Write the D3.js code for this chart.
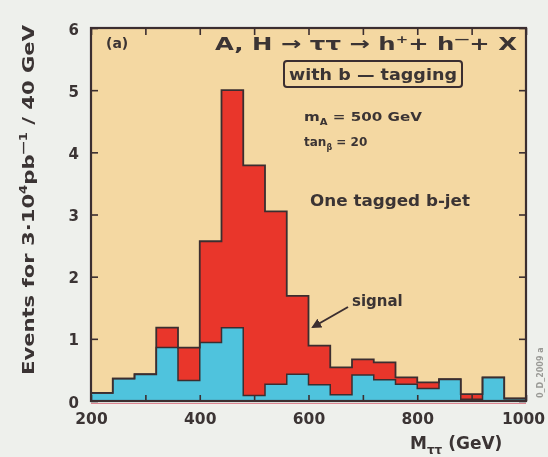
<!DOCTYPE html>
<html>
<head>
<meta charset="utf-8">
<script src="https://cdn.jsdelivr.net/npm/d3@7"></script>
<style>
  html, body { margin: 0; padding: 0; background: #eef0ec; }
  svg { display: block; filter: blur(0.45px); }
  text { font-family: "DejaVu Sans", "Liberation Sans", sans-serif; font-weight: bold; fill: #3b3434; }
</style>
</head>
<body>
<svg id="chart" width="548" height="457"></svg>
<script>
// --- data: 40 GeV bins from 200 to 1000 GeV ---
var binStart = [200, 240, 280, 320, 360, 400, 440, 480, 520, 560,
                600, 640, 680, 720, 760, 800, 840, 880, 920, 960];
// background (cyan) events per bin
var background = [0.13, 0.36, 0.43, 0.86, 0.33, 0.94, 1.18, 0.09, 0.27, 0.43,
                  0.26, 0.10, 0.42, 0.34, 0.27, 0.20, 0.35, 0.03, 0.38, 0.04];
// signal (red) stacked on top of background
var signal = [0.00, 0.00, 0.00, 0.32, 0.53, 1.63, 3.82, 3.70, 2.78, 1.26,
              0.63, 0.44, 0.25, 0.28, 0.11, 0.10, 0.00, 0.08, 0.00, 0.00];
var binWidth = 40;
var yTicks = [0, 1, 2, 3, 4, 5, 6];
var xTicks = [200, 300, 400, 500, 600, 700, 800, 900, 1000];
var xLabels = [200, 400, 600, 800, 1000];

// --- colours ---
var colPanel = "#f4d8a2";
var colSignal = "#e9362b";
var colBkg = "#4fc3dd";
var colLine = "#3b2e30";

var svg = d3.select("#chart");
var x = d3.scaleLinear().domain([200, 1000]).range([91, 526]);
var y = d3.scaleLinear().domain([0, 6]).range([401, 28]);

// panel
svg.append("rect")
    .attr("x", x(200)).attr("y", y(6))
    .attr("width", x(1000) - x(200)).attr("height", y(0) - y(6))
    .attr("fill", colPanel);

// build stacked rows
var rows = binStart.map(function(b, i) {
    return { x: b, bkg: background[i], sig: signal[i] };
});
var stack = d3.stack().keys(["bkg", "sig"]);
var series = stack(rows);
// add closing point at the upper edge of the last bin
function withEnd(s) {
    var pts = s.map(function(d, i) { return { x: rows[i].x, y0: d[0], y1: d[1] }; });
    var last = pts[pts.length - 1];
    pts.push({ x: last.x + binWidth, y0: last.y0, y1: last.y1 });
    return pts;
}
var bkgPts = withEnd(series[0]);
var totPts = withEnd(series[1]);

var area = d3.area().curve(d3.curveStepAfter)
    .x(function(d) { return x(d.x); })
    .y0(function() { return y(0); })
    .y1(function(d) { return y(d.y1); });
var line = d3.line().curve(d3.curveStepAfter)
    .x(function(d) { return x(d.x); })
    .y(function(d) { return y(d.y1); });

svg.append("path").attr("d", area(totPts)).attr("fill", colSignal);
svg.append("path").attr("d", area(bkgPts)).attr("fill", colBkg);
svg.append("path").attr("d", line(totPts)).attr("fill", "none")
    .attr("stroke", colLine).attr("stroke-width", 1.8);
svg.append("path").attr("d", line(bkgPts)).attr("fill", "none")
    .attr("stroke", colLine).attr("stroke-width", 1.5);

// axes (ticks point inward)
var fmtX = function(d) { return xLabels.indexOf(d) >= 0 ? d : ""; };
var gy = svg.append("g").attr("transform", "translate(" + x(200) + ",0)")
    .call(d3.axisLeft(y).tickValues(yTicks).tickSize(-7).tickPadding(12).tickFormat(d3.format("d")));
svg.append("g").attr("transform", "translate(" + x(1000) + ",0)")
    .call(d3.axisRight(y).tickValues(yTicks).tickSize(-7).tickFormat(""));
var gx = svg.append("g").attr("transform", "translate(0," + y(0) + ")")
    .call(d3.axisBottom(x).tickValues(xTicks).tickSize(-6).tickPadding(12).tickFormat(fmtX));
svg.append("g").attr("transform", "translate(0," + y(6) + ")")
    .call(d3.axisTop(x).tickValues(xTicks).tickSize(-7).tickFormat(""));
svg.selectAll(".domain").remove();
svg.selectAll(".tick line").attr("stroke", colLine).attr("stroke-width", 1.6);
svg.selectAll(".tick text").attr("fill", "#3b3434");
gy.selectAll(".tick text").style("font-size", "15px").attr("dy", "0.4em");
gx.selectAll(".tick text").style("font-size", "15.5px")
    .attr("dx", function(d) { return d === 1000 ? -3 : 0; });

// frame
svg.append("rect")
    .attr("x", x(200)).attr("y", y(6))
    .attr("width", x(1000) - x(200)).attr("height", y(0) - y(6))
    .attr("fill", "none").attr("stroke", colLine).attr("stroke-width", 2.2);
svg.append("line")
    .attr("x1", x(200)).attr("x2", x(1000)).attr("y1", y(0) + 2.5).attr("y2", y(0) + 2.5)
    .attr("stroke", "#d86a7a").attr("stroke-width", 0.8);

// annotations
svg.append("text").attr("x", 106).attr("y", 48).style("font-size", "14px").text("(a)");
svg.append("text").attr("x", 215).attr("y", 50).style("font-size", "18px")
    .attr("textLength", 302).attr("lengthAdjust", "spacingAndGlyphs")
    .html('A, H → ττ → h<tspan dy="-7" font-size="11">+</tspan><tspan dy="7">+ h</tspan><tspan dy="-7" font-size="11">—</tspan><tspan dy="7">+ X</tspan>');

svg.append("rect").attr("x", 284).attr("y", 61).attr("width", 178).attr("height", 26)
    .attr("rx", 3).attr("fill", "none").attr("stroke", colLine).attr("stroke-width", 2);
svg.append("text").attr("x", 289).attr("y", 80).style("font-size", "16px")
    .attr("textLength", 168).attr("lengthAdjust", "spacingAndGlyphs").text("with b — tagging");

svg.append("text").attr("x", 304).attr("y", 121).style("font-size", "12px")
    .attr("textLength", 118).attr("lengthAdjust", "spacingAndGlyphs")
    .html('m<tspan dy="4" font-size="8">A</tspan><tspan dy="-4"> = 500 GeV</tspan>');
svg.append("text").attr("x", 304).attr("y", 146).style("font-size", "12px")
    .html('tan<tspan dy="4" font-size="8">β</tspan><tspan dy="-4"> = 20</tspan>');
svg.append("text").attr("x", 310).attr("y", 206).style("font-size", "16px")
    .attr("textLength", 160).attr("lengthAdjust", "spacingAndGlyphs").text("One tagged b-jet");

svg.append("text").attr("x", 352).attr("y", 306).style("font-size", "15px").text("signal");
svg.append("defs").append("marker")
    .attr("id", "arr").attr("viewBox", "0 0 10 10").attr("refX", 8).attr("refY", 5)
    .attr("markerWidth", 5).attr("markerHeight", 5).attr("orient", "auto")
    .append("path").attr("d", "M0,0L10,5L0,10Z").attr("fill", colLine);
svg.append("line").attr("x1", 348).attr("y1", 307).attr("x2", 313).attr("y2", 327)
    .attr("stroke", colLine).attr("stroke-width", 2).attr("marker-end", "url(#arr)");

// axis titles
svg.append("text").attr("x", 410).attr("y", 449).style("font-size", "17px")
    .html('M<tspan dy="5" font-size="12">ττ</tspan><tspan dy="-5"> (GeV)</tspan>');
svg.append("text")
    .attr("transform", "translate(34,200) rotate(-90)")
    .attr("text-anchor", "middle").style("font-size", "16px")
    .attr("textLength", 350).attr("lengthAdjust", "spacingAndGlyphs")
    .html('Events for 3·10<tspan dy="-7" font-size="10">4</tspan><tspan dy="7">pb</tspan><tspan dy="-7" font-size="10">—1</tspan><tspan dy="7"> / 40 GeV</tspan>');

// faint side stamp
svg.append("text")
    .attr("transform", "translate(543,398) rotate(-90)")
    .style("font-size", "8px").style("fill", "#9a9a96").text("0_D_2009 a");
</script>
</body>
</html>
